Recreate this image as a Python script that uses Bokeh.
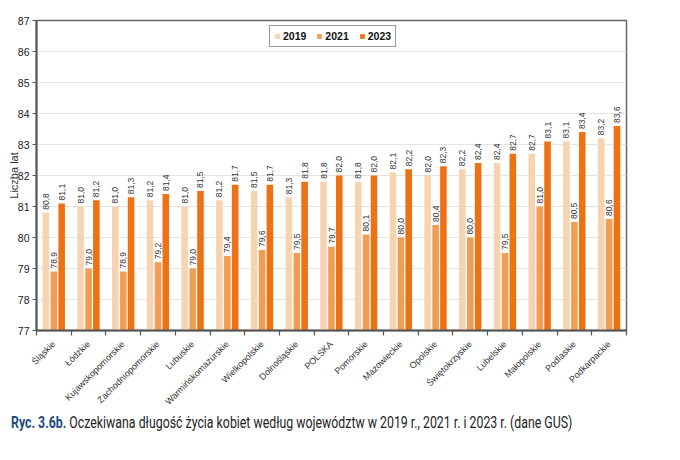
import numpy as np
from bokeh.plotting import figure
from bokeh.layouts import column
from bokeh.models import (ColumnDataSource, Range1d, FixedTicker, Legend, LegendItem, Div)
from bokeh.core.properties import value
from bokeh.embed import file_html
from bokeh.resources import INLINE

categories = ["Śląskie", "Łódzkie", "Kujawskopomorskie", "Zachodniopomorskie", "Lubuskie",
              "Warmińskomazurskie", "Wielkopolskie", "Dolnośląskie", "POLSKA", "Pomorskie",
              "Mazowieckie", "Opolskie", "Świętokrzyskie", "Lubelskie", "Małopolskie",
              "Podlaskie", "Podkarpackie"]
v2019 = [80.8, 81.0, 81.0, 81.2, 81.0, 81.2, 81.5, 81.3, 81.8, 81.8, 82.1, 82.0, 82.2, 82.4, 82.7, 83.1, 83.2]
v2021 = [78.9, 79.0, 78.9, 79.2, 79.0, 79.4, 79.6, 79.5, 79.7, 80.1, 80.0, 80.4, 80.0, 79.5, 81.0, 80.5, 80.6]
v2023 = [81.1, 81.2, 81.3, 81.4, 81.5, 81.7, 81.7, 81.8, 82.0, 82.0, 82.2, 82.3, 82.4, 82.7, 83.1, 83.4, 83.6]
years = ["2019", "2021", "2023"]
y_ticks = [77, 78, 79, 80, 81, 82, 83, 84, 85, 86, 87]
caption_bold = "Ryc. 3.6b."
caption_rest = "Oczekiwana długość życia kobiet według województw w 2019 r., 2021 r. i 2023 r. (dane GUS)"

colors = ["#F8D3B2", "#F19D52", "#EE7214"]
offsets = [-0.23, 0.0, 0.225]
FONT = "Liberation Sans"

n = len(categories)
centers = np.arange(n) + 0.5

p = figure(width=664, height=413, output_backend="svg", toolbar_location=None,
           x_range=Range1d(0, n), y_range=Range1d(77, 87),
           min_border_left=36, min_border_right=38, min_border_top=20, min_border_bottom=83)
p.background_fill_color = "white"
p.border_fill_color = "white"
p.outline_line_color = "#666666"
p.outline_line_width = 1.5

items = []
for yr, vals, col, off in zip(years, [v2019, v2021, v2023], colors, offsets):
    src = ColumnDataSource(dict(x=centers + off, top=vals,
                                lab=[f"{v:.1f}".replace(".", ",") for v in vals]))
    r = p.vbar(x="x", top="top", bottom=77, width=0.19, source=src,
               fill_color=col, line_color=None)
    p.text(x="x", y="top", text="lab", source=src, angle=np.pi / 2,
           text_align="left", text_baseline="middle", y_offset=-3,
           text_font=value(FONT), text_font_size="8.5px", text_color="#333333")
    items.append(LegendItem(label=yr, renderers=[r]))

legend = Legend(items=items, orientation="horizontal", location=(233, 283))
legend.border_line_color = "#333333"
legend.border_line_width = 1.5
legend.label_text_font = FONT
legend.label_text_font_style = "bold"
legend.label_text_font_size = "10.5px"
legend.label_text_color = "#111111"
legend.glyph_width = 6
legend.glyph_height = 6
legend.label_standoff = 3
legend.spacing = 10
legend.padding = 4
legend.margin = 0
legend.label_height = 11
legend.background_fill_alpha = 1
p.add_layout(legend, "center")

# axes
p.xaxis.ticker = FixedTicker(ticks=list(centers), minor_ticks=list(range(n + 1)))
p.xaxis.major_label_overrides = {float(c): name for c, name in zip(centers, categories)}
p.xaxis.major_label_orientation = np.pi / 4
p.xaxis.major_label_text_font = FONT
p.xaxis.major_label_text_font_size = "9px"
p.xaxis.major_label_text_color = "#333333"
p.xaxis.major_tick_line_color = None
p.xaxis.minor_tick_line_color = "#555555"
p.xaxis.minor_tick_line_width = 1.2
p.xaxis.minor_tick_out = 5
p.xaxis.minor_tick_in = 0
p.xaxis.axis_line_color = "#555555"
p.xaxis.axis_line_width = 2
p.xaxis.major_label_standoff = 6

p.yaxis.ticker = FixedTicker(ticks=y_ticks)
p.yaxis.axis_label = "Liczba lat"
p.yaxis.axis_label_text_font = FONT
p.yaxis.axis_label_text_font_style = "normal"
p.yaxis.axis_label_text_font_size = "11px"
p.yaxis.axis_label_text_color = "#333333"
p.yaxis.axis_label_standoff = -5
p.yaxis.major_label_text_font = FONT
p.yaxis.major_label_text_font_size = "10.5px"
p.yaxis.major_label_text_color = "#222222"
p.yaxis.axis_line_color = "#555555"
p.yaxis.axis_line_width = 2
p.yaxis.major_tick_line_color = "#555555"
p.yaxis.major_tick_out = 4
p.yaxis.major_tick_in = 0
p.yaxis.minor_tick_line_color = None
p.yaxis.major_label_standoff = 3

p.xgrid.grid_line_color = None
p.ygrid.grid_line_color = "#E4E4E4"
p.ygrid.grid_line_width = 1

# caption
cap_html = (
    '<div style="position:relative;top:-6px;padding:0 0 0 6px;white-space:nowrap;">'
    '<span style="display:inline-block;transform:scaleX(0.725);transform-origin:0 50%;'
    'font-family:Roboto;font-size:17px;line-height:20px;color:#222222;">'
    f'<span style="color:#1F4A7C;font-weight:bold;">{caption_bold}</span> {caption_rest}'
    '</span></div>'
)
cap = Div(text=cap_html, width=664, height=39)

layout = column(p, cap, spacing=0)
open("out.html", "w").write(file_html(layout, INLINE))
